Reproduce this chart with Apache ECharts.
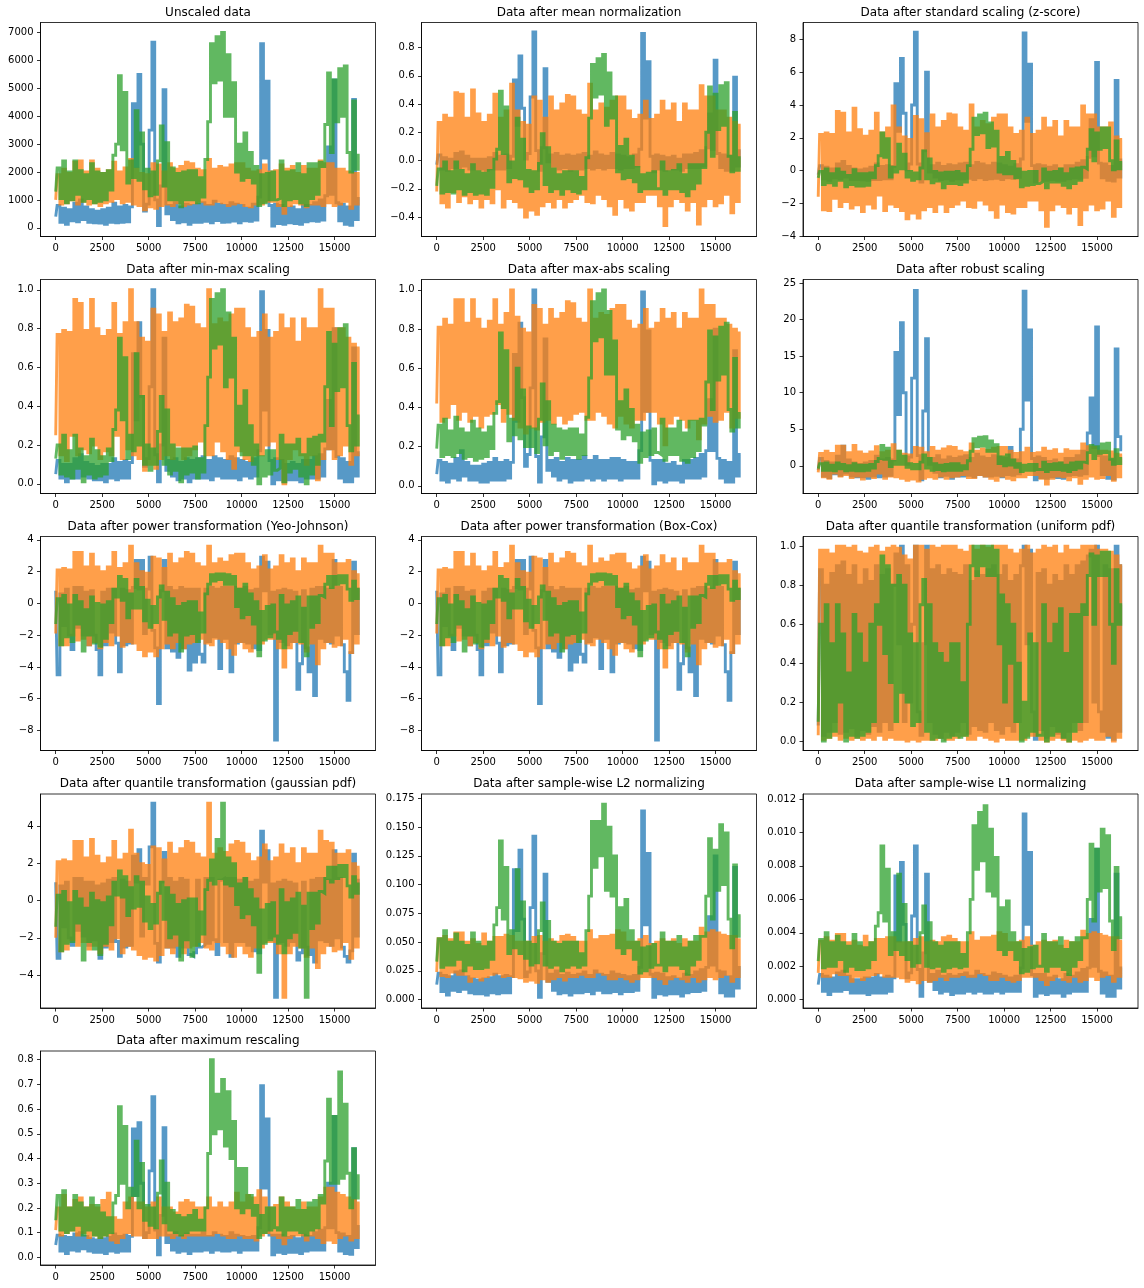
<!DOCTYPE html>
<html><head><meta charset="utf-8">
<style>html,body{margin:0;padding:0;background:#fff}#c{width:1144px;height:1288px}</style>
<script src="https://cdn.jsdelivr.net/npm/echarts@6/dist/echarts.min.js"></script>
</head><body><div id="c"></div>
<script>
const rawBlue=[400,800,200,700,130,650,250,880,220,1000,
300,750,200,650,180,600,170,650,130,700,
200,880,180,750,200,800,220,750,4450,2200,
5500,3000,600,850,3500,6650,1000,80,1500,4950,
500,800,300,900,180,750,220,850,130,800,
200,850,200,900,230,800,180,950,260,850,
200,800,210,900,240,850,180,800,250,700,
230,850,280,1100,6600,2500,5250,800,60,850,
150,800,130,700,180,750,150,650,130,800,
220,800,250,900,230,1000,280,1150,2900,1200,
5300,900,250,850,130,750,90,4600,300,1050];
const rawOrange=[1000,1900,850,2100,900,1950,1000,2350,850,2400,
950,2000,850,2400,900,2100,800,1950,900,2050,
950,2350,1050,2000,900,2150,950,2450,850,2100,
800,1950,650,1900,750,2300,700,2250,800,2000,
850,2300,800,2100,900,2200,800,2350,850,2300,
900,2100,950,2050,850,2450,850,2100,950,2200,
900,2150,800,2250,850,2300,900,2300,800,2100,
750,2000,850,2050,850,2250,950,2000,950,2050,
800,2250,520,2100,800,2200,900,1950,850,2200,
750,2100,850,2100,850,2400,800,2300,900,2300,
800,2100,850,2100,950,2000,700,1950,850,1950];
const rawGreen=[1300,2150,1050,2400,900,2000,1000,2400,1200,2050,
950,1900,1050,2300,900,2000,950,1950,1000,2050,
1350,2600,3000,5450,2800,4850,1600,2400,1800,4200,
1700,3400,1400,2100,1150,2000,1200,2400,3650,1500,
3050,1000,2150,1000,1950,750,2000,1000,2050,1000,
2050,900,1800,1100,2450,3800,6600,5200,6850,5300,
7000,4000,6200,4000,5200,2000,3000,1700,3400,1800,
2700,1600,2200,800,1900,900,1950,1000,2000,1000,
1050,2400,800,2000,1000,2050,1050,2300,900,1900,
800,2300,1050,2300,1200,2350,2200,3700,5550,2700,
5300,3800,5700,4000,5800,2700,2000,4550,2100,2600];

const meanBlue=[-.03,.04,-.06,.02,-.07,.01,-.05,.05,-.05,.06,
-.04,.03,-.06,.01,-.06,.01,-.06,.01,-.07,.02,
-.06,.05,-.06,.03,-.06,.04,-.05,.03,.57,.25,
.74,.37,.01,.05,.45,.91,.07,-.07,.09,.65,
-.01,.04,-.04,.05,-.06,.03,-.05,.04,-.07,.03,
-.06,.04,-.06,.05,-.05,.03,-.06,.06,-.05,.04,
-.06,.03,-.05,.05,-.05,.04,-.06,.03,-.05,.02,
-.05,.04,-.04,.08,.9,.3,.7,.03,-.08,.04,
-.06,.03,-.07,.02,-.06,.03,-.06,.01,-.07,.04,
-.05,.04,-.05,.05,-.05,.07,-.04,.09,.33,.08,
.71,.05,-.05,.04,-.07,.03,-.07,.59,-.04,.07];
const meanOrange=[-.22,.27,-.3,.32,-.33,.3,-.22,.48,-.29,.47,
-.25,.3,-.3,.5,-.27,.33,-.33,.27,-.27,.32,
-.3,.47,-.2,.3,-.33,.35,-.27,.54,-.29,.35,
-.33,.27,-.4,.25,-.35,.45,-.38,.42,-.32,.3,
-.29,.45,-.33,.35,-.27,.4,-.33,.46,-.29,.45,
-.27,.35,-.24,.32,-.29,.54,-.3,.35,-.24,.4,
-.27,.37,-.32,.42,-.38,.45,-.27,.45,-.33,.35,
-.35,.29,-.29,.32,-.29,.42,-.24,.29,-.24,.32,
-.32,.42,-.46,.35,-.32,.4,-.27,.27,-.29,.4,
-.35,.35,-.29,.35,-.45,.53,-.32,.45,-.27,.45,
-.32,.35,-.3,.35,-.24,.3,-.37,.27,-.29,.25];
const meanGreen=[-.18,-.06,-.23,-.01,-.22,-.08,-.23,-.01,-.2,-.07,
-.24,-.1,-.22,-.03,-.24,-.08,-.23,-.09,-.24,-.07,
-.19,.01,.08,.49,.05,.38,-.15,-.01,-.12,.3,
-.13,.15,-.18,-.07,-.22,-.08,-.2,-.02,.19,-.17,
.09,-.22,-.06,-.2,-.1,-.24,-.08,-.2,-.08,-.22,
-.08,-.23,-.12,-.2,.02,.3,.68,.45,.72,.47,
.75,.25,.62,.3,.45,-.08,.1,-.13,.15,-.12,
.03,-.15,-.05,-.22,-.1,-.2,-.09,-.2,-.08,-.2,
-.2,-.01,-.24,-.08,-.2,-.07,-.2,-.03,-.22,-.1,
-.25,-.03,-.2,-.03,-.16,-.03,-.05,.2,.52,.03,
.47,.22,.53,.25,.55,.03,-.08,.34,-.07,.02];

const zBlue=[-.25,.3,-.5,.2,-.6,.1,-.45,.4,-.5,.55,
-.4,.25,-.55,.1,-.55,.03,-.57,.1,-.6,.2,
-.55,.4,-.55,.25,-.5,.3,-.5,.25,5.3,2.4,
6.85,3.5,.05,.4,4,8.45,.4,-.7,1.2,6,
-.1,.3,-.4,.45,-.55,.25,-.5,.35,-.6,.3,
-.5,.4,-.5,.45,-.48,.3,-.55,.5,-.45,.4,
-.55,.3,-.5,.45,-.48,.4,-.55,.3,-.45,.2,
-.48,.35,-.42,.7,8.4,3,6.5,.3,-.7,.35,
-.6,.3,-.6,.2,-.55,.3,-.6,.1,-.6,.3,
-.5,.3,-.45,.45,-.48,.6,-.42,.8,3.1,.9,
6.6,.45,-.45,.4,-.6,.25,-.65,5.5,-.4,.65];
const zOrange=[-1.6,2.2,-2.4,2.3,-2.45,2.2,-1.7,3.6,-2.2,3.5,
-1.9,2.3,-2.3,3.8,-2.1,2.5,-2.5,2.1,-2.05,2.4,
-2.3,3.5,-1.5,2.3,-2.45,2.6,-2.05,3.95,-2.2,2.6,
-2.45,2.05,-2.95,1.9,-2.6,3.3,-2.9,3.1,-2.4,2.25,
-2.2,3.4,-2.5,2.6,-2.05,3,-2.5,3.45,-2.2,3.4,
-2.05,2.6,-1.8,2.4,-2.2,4,-2.25,2.6,-1.8,3,
-2.05,2.8,-2.4,3.2,-2.85,3.4,-2.05,3.4,-2.5,2.6,
-2.6,2.2,-2.2,2.4,-2.2,3.2,-1.8,2.2,-1.8,2.4,
-2.4,3.2,-3.4,2.6,-2.4,3,-2.05,2.05,-2.2,3,
-2.6,2.6,-2.2,2.6,-3.3,3.95,-2.4,3.4,-2.05,3.4,
-2.4,2.6,-2.3,2.6,-1.8,2.9,-2.8,2.05,-2.2,1.9];
const zGreen=[-.45,-.05,-.85,.1,-.75,-.2,-.9,.1,-.6,-.1,
-1,-.3,-.85,.05,-.95,-.2,-.95,-.2,-.9,-.15,
-.45,.3,.9,2.3,.8,1.95,-.4,.2,-.1,1.6,
.1,1,-.4,-.05,-.6,-.15,-.5,.15,1.2,-.5,
.7,-.75,-.05,-.65,-.15,-1.05,-.1,-.8,-.1,-.8,
-.05,-.85,-.2,-.7,.3,1.3,3.2,2.2,3.4,2.3,
3.5,1.4,2.9,1.5,2.4,-.1,.8,-.2,1.1,-.2,
.55,-.45,.1,-1,-.1,-.9,-.05,-.85,-.05,-.8,
-.7,.1,-1.05,-.1,-.7,-.05,-.7,.1,-.9,-.2,
-1.05,.1,-.8,.15,-.6,.2,.1,1.3,2.5,.6,
2.3,1.3,2.6,1.4,2.6,.6,.05,1.8,.1,.5];

const minmaxBlue=[.05,.12,.03,.1,.01,.1,.03,.13,.03,.15,
.04,.11,.03,.1,.02,.09,.02,.1,.01,.1,
.03,.13,.02,.11,.03,.12,.03,.11,.67,.33,
.83,.45,.09,.13,.5,1,.15,.01,.2,.75,
.07,.12,.04,.13,.02,.11,.03,.13,.01,.12,
.03,.13,.03,.14,.03,.12,.02,.14,.04,.13,
.03,.12,.03,.14,.03,.13,.02,.12,.04,.11,
.03,.13,.04,.17,.99,.38,.79,.12,0,.13,
.02,.12,.01,.1,.02,.11,.02,.1,.01,.12,
.03,.12,.03,.14,.03,.15,.04,.18,.43,.18,
.8,.14,.03,.13,.01,.11,.01,.7,.04,.16];
const minmaxOrange=[.25,.77,.15,.79,.12,.78,.25,.95,.15,.93,
.18,.79,.16,.95,.2,.8,.13,.76,.17,.79,
.15,.93,.25,.77,.13,.83,.18,1,.15,.83,
.13,.75,.07,.73,.1,.9,.08,.87,.13,.78,
.15,.88,.13,.83,.2,.85,.13,.92,.15,.91,
.18,.82,.22,.8,.15,1,.15,.82,.22,.85,
.17,.83,.13,.87,.08,.9,.17,.9,.13,.8,
.12,.75,.15,.78,.15,.87,.2,.75,.22,.78,
.13,.87,0,.8,.13,.85,.18,.73,.15,.85,
.1,.8,.15,.8,.02,1,.13,.9,.18,.9,
.13,.8,.15,.8,.2,.75,.1,.72,.15,.7];
const minmaxGreen=[.13,.2,.05,.25,.04,.17,.03,.25,.08,.18,
.01,.14,.05,.23,.03,.17,.04,.14,.05,.18,
.12,.28,.38,.75,.33,.65,.13,.25,.17,.67,
.2,.45,.1,.2,.07,.18,.1,.27,.45,.1,
.38,.05,.2,.07,.18,.01,.18,.05,.18,.06,
.19,.03,.13,.06,.3,.55,.95,.7,.98,.72,
1,.5,.88,.55,.75,.2,.4,.15,.48,.15,
.3,.1,.2,0,.14,.04,.17,.05,.17,.07,
.08,.25,.01,.2,.06,.2,.08,.23,.04,.15,
0,.23,.05,.24,.1,.25,.22,.5,.78,.3,
.72,.48,.8,.5,.82,.3,.17,.62,.2,.35];

const maxabsBlue=[.06,.13,.03,.12,.02,.11,.04,.14,.03,.18,
.05,.12,.03,.1,.03,.1,.02,.11,.02,.12,
.03,.14,.03,.12,.03,.13,.04,.12,.67,.33,
.83,.45,.1,.16,.5,1,.15,.02,.25,.75,
.08,.13,.05,.14,.03,.12,.04,.14,.02,.13,
.03,.13,.03,.15,.04,.13,.03,.15,.04,.13,
.03,.13,.04,.14,.04,.14,.03,.13,.04,.12,
.04,.12,.04,.18,.99,.38,.79,.13,.01,.13,
.03,.13,.02,.11,.03,.12,.03,.1,.02,.13,
.04,.13,.04,.14,.04,.16,.05,.18,.44,.18,
.8,.14,.04,.13,.02,.12,.02,.69,.05,.16];
const maxabsOrange=[.42,.81,.33,.85,.35,.82,.42,.95,.34,.95,
.38,.83,.33,.95,.36,.85,.3,.8,.36,.84,
.37,.95,.42,.82,.33,.88,.37,1,.34,.86,
.3,.8,.27,.78,.3,.92,.29,.9,.33,.82,
.34,.9,.32,.85,.36,.88,.32,.94,.34,.93,
.37,.85,.38,.83,.34,1,.34,.85,.38,.88,
.36,.87,.32,.9,.3,.92,.36,.92,.32,.84,
.3,.8,.34,.82,.34,.9,.38,.8,.38,.83,
.32,.9,.21,.85,.32,.88,.36,.8,.34,.88,
.3,.85,.34,.85,.24,1,.32,.92,.36,.92,
.33,.85,.34,.85,.38,.82,.3,.8,.35,.78];
const maxabsGreen=[.19,.31,.15,.34,.16,.28,.15,.35,.17,.29,
.14,.27,.15,.33,.13,.29,.14,.27,.15,.3,
.19,.37,.43,.78,.4,.69,.23,.34,.26,.6,
.24,.49,.2,.3,.2,.29,.17,.34,.52,.21,
.43,.16,.31,.18,.29,.14,.28,.16,.29,.16,
.29,.14,.26,.16,.35,.55,.94,.74,.98,.76,
1,.57,.89,.57,.74,.29,.43,.24,.49,.26,
.39,.23,.31,.12,.27,.15,.28,.16,.29,.17,
.16,.34,.13,.29,.16,.29,.16,.33,.13,.27,
.12,.33,.15,.33,.18,.34,.31,.53,.79,.39,
.76,.54,.81,.57,.83,.39,.28,.65,.3,.37];

const robustBlue=[-.6,1,-1.4,.6,-1.6,.4,-1.1,1.3,-1.3,2.7,
-1,.8,-1.4,.4,-1.5,.2,-1.5,.4,-1.7,.6,
-1.4,1.3,-1.5,.8,-1.4,1,-1.3,.8,15.5,7,
19.6,10,.2,1.2,12,24,1.4,-1.9,7.5,17.4,
.2,1,-.9,1.4,-1.5,.8,-1.3,1.2,-1.7,1,
-1.4,1.2,-1.4,1.4,-1.3,1,-1.5,1.6,-1.2,1.2,
-1.4,1,-1.4,1.4,-1.3,1.2,-1.5,1,-1.2,2.5,
-1.3,.8,-1.1,5,23.9,9,18.6,1,-1.9,1.2,
-1.6,1,-1.7,.6,-1.5,.8,-1.6,.4,-1.7,1,
-1.3,1,-1.2,1.4,-1.3,2,-1.1,4.5,9.3,2.5,
19,1.4,-1.2,1.2,-1.7,.8,-1.8,16,4,2.2];
const robustOrange=[-.9,1.7,-1.5,2,-1.7,1.7,-1,2.7,-1.4,2.7,
-1.2,1.8,-1.6,2.8,-1.4,1.9,-1.8,1.6,-1.4,1.9,
-1.6,2.6,-1,1.8,-1.7,2,-1.4,2.9,-1.5,2,
-1.7,1.6,-2,1.5,-1.8,2.5,-2.1,2.4,-1.7,1.8,
-1.5,2.5,-1.7,2,-1.4,2.3,-1.7,2.6,-1.5,2.5,
-1.4,2,-1.2,1.8,-1.6,3,-1.6,2,-1.2,2.3,
-1.4,2.1,-1.7,2.4,-2,2.5,-1.4,2.5,-1.7,2,
-1.9,1.7,-1.5,1.8,-1.5,2.4,-1.2,1.7,-1.2,1.8,
-1.7,2.4,-2.5,2,-1.7,2.2,-1.4,1.6,-1.5,2.2,
-1.9,2,-1.5,2,-2.4,3,-1.7,2.6,-1.4,2.5,
-1.7,2,-1.6,2,-1.2,1.9,-2,1.6,-1.5,1.5];
const robustGreen=[-.4,.3,-.6,.4,-.6,.1,-.7,.4,-.4,.2,
-.7,0,-.6,.3,-.7,.1,-.7,.1,-.6,.2,
-.3,.6,1,2.8,.9,2.4,-.1,.6,.2,2,
.2,1.3,-.2,.3,-.4,.2,-.4,.5,1.5,-.3,
1,-.6,.3,-.5,.1,-.7,.2,-.6,.3,-.6,
.3,-.6,0,-.4,.7,2,3.7,2.6,3.9,2.7,
4,2,3.4,2,2.9,.3,1.2,0,1.5,.1,
.8,-.2,.3,-.8,.1,-.6,.2,-.6,.2,-.5,
-.5,.5,-.8,.2,-.5,.3,-.5,.4,-.6,.1,
-.8,.4,-.5,.5,-.3,.5,.4,1.8,2.8,1,
2.6,1.7,3,1.8,3.1,.9,.2,2.2,.3,1];

const powerBlue=[.8,-4.5,.6,-1.4,.9,-2,-2.9,1,-1.5,1,
-2,.7,-2.6,.8,-2,-2.9,-4.5,.7,-2.6,.9,
-1.8,.9,-2.5,-4.3,.9,-2.6,.8,-2.5,1,2.7,
.9,2.7,-1.9,.9,2.9,-1.7,-2.8,-6.3,.8,2.7,
-2.8,1,-3,.8,-3.4,1,-2.8,.9,-4.2,.9,
-3.7,.9,-3.2,-3.7,.9,-2.4,1,-2.1,.9,-4.1,
1,-2.2,1,-4.3,1,-2.5,.9,-2.4,1,-2.5,
.8,-2.8,.9,-2.9,2.9,.8,2.6,-1.9,.7,-8.6,
.8,-2.4,.9,-2.6,.8,-2.4,.7,-5.4,-3.8,.8,
-2.8,-4.3,.9,-5.8,1,-2.2,1,-2.4,.9,-2.5,
2.7,-2,1,-2.6,-4.3,-6.1,-3.1,2.6,-1.9,.9];
const powerOrange=[-1.9,2.1,-2.6,2.2,-2.6,2.1,-2,3.2,-2.3,3.2,
-2.2,2.3,-2.6,3.1,-2.4,2.3,-2.8,2,-2.4,2.3,
-2.6,3.2,-2,2.2,-2.7,2.5,-2.4,3.6,-2.5,2.5,
-2.9,2,-3.3,1.9,-3,2.9,-3.3,2.8,-2.8,2.2,
-2.5,3.1,-2.8,2.5,-2.4,2.8,-2.8,3.2,-2.5,3.1,
-2.4,2.5,-2.2,2.3,-2.5,3.6,-2.6,2.5,-2.2,2.8,
-2.4,2.6,-2.8,3,-3.2,3.1,-2.4,3.1,-2.8,2.5,
-3,2.1,-2.5,2.3,-2.5,3,-2.2,2.1,-2.2,2.3,
-2.8,3,-4,2.5,-2.8,2.8,-2.4,2,-2.5,2.8,
-3,2.5,-2.5,2.5,-3.8,3.6,-2.8,3.1,-2.4,3.1,
-2.7,2.5,-2.6,2.5,-2.2,2.7,-3.1,2,-2.5,1.8];
const powerGreen=[-1.3,.3,-2.6,.5,-2.1,-.1,-2.4,.5,-1.3,.1,
-3,-.4,-2,.4,-2.5,0,-2.7,-.1,-2.2,.1,
-1.2,.9,.4,1.7,.2,1.5,-.9,.6,-.3,1.5,
-.3,1,-1.1,.2,-1.5,-.2,-1.2,.4,1.1,-1,
.7,-2,.3,-1.8,-.2,-3,0,-2,.1,-1.9,
.1,-2.4,-.6,-1.8,.6,1.2,1.8,1.4,1.85,1.5,
1.85,1.2,1.8,1.2,1.7,-.2,.9,-.9,1.2,-.7,
.6,-1.3,.1,-3.3,-.5,-2.3,-.2,-2.1,-.1,-1.8,
-2.2,.5,-2.8,-.1,-1.9,.1,-1.7,.4,-2.4,-.3,
-3.3,.4,-1.5,.4,-1.2,.5,.4,1.2,1.7,1,
1.7,1.2,1.75,1.3,1.75,.9,.2,1.4,.3,.9];

const uniformBlue=[.08,.88,.03,.8,.05,.86,.1,.9,.04,.92,
.05,.85,.07,.9,.03,.8,.06,.88,.04,.82,
.08,.9,.05,.85,.1,.88,.06,.8,.96,.5,
1,.1,.9,.2,.6,1,.15,.03,.5,1,
.1,.88,.04,.9,.02,.85,.05,.88,.03,.86,
.05,.85,.1,.9,.04,.82,.08,.87,.06,.85,
.05,.88,.1,.9,.06,.85,.04,.9,.08,.82,
.05,.85,.1,.9,1,.5,.98,.15,.01,.86,
.06,.88,.02,.8,.08,.85,.04,.82,.02,.9,
.05,.85,.1,.9,.06,.92,.1,.95,.98,.2,
1,.15,.05,.9,.02,.88,.01,1,.05,.9];
const uniformOrange=[.03,.98,.01,.98,.02,.96,.03,1,.01,1,
.02,.99,.01,1,.02,.97,.01,.96,.02,.99,
.01,1,.03,.97,.01,.99,.02,1,.01,.99,
.01,.95,0,.93,.01,1,0,1,.01,.98,
.01,1,.01,.99,.02,1,.01,1,.01,1,
.02,.98,.03,.97,.01,1,.01,.98,.03,1,
.02,.99,.01,1,0,1,.02,1,.01,.98,
.01,.96,.01,.98,.01,1,.03,.96,.03,.98,
.01,1,0,.99,.01,1,.02,.96,.01,1,
0,.98,.01,.98,0,1,.01,1,.02,1,
.01,.98,.01,.98,.03,.97,0,.95,.02,.9];
const uniformGreen=[.1,.6,0,.7,.02,.5,.05,.7,.2,.55,
0,.35,.03,.65,.02,.55,.03,.4,.05,.6,
.1,.7,.6,.95,.45,.9,.3,.8,.1,.85,
.25,.8,.2,.55,.08,.5,.1,.7,.83,.05,
.7,.01,.5,.02,.45,0,.4,.02,.5,.03,
.5,.02,.3,.03,.6,.9,1,.85,1,.9,
1,.85,1,.85,.98,.5,.75,.2,.7,.4,
.6,.1,.4,0,.2,.02,.55,.05,.5,.03,
.03,.7,0,.5,.03,.6,.05,.68,.02,.45,
0,.65,.05,.65,.1,.7,.65,.85,.96,.6,
.95,.85,.97,.85,.97,.6,.4,.88,.6,.7];

const gaussBlue=[1,-3.1,.8,-1.4,1,-2,-2.4,1.2,-1.6,1.2,
-1.9,1,-2.4,1,-2.1,.8,-3.1,.9,-2.5,1.1,
-2.2,1.2,-2.2,-3,1.1,-2.5,1,-2.4,2.4,1,
2.75,-1.9,1.2,.9,2.9,5.25,-2.3,-3.3,1,2.6,
-2.5,1.2,-2.5,1,-3,1.2,-2.5,1.1,-2.9,-3,
-2.8,1.1,-2.5,-2.4,1.2,-2.3,1.2,-2.1,-2.9,1.1,
1.2,-2.2,1.2,-3,1.2,-2.2,1.1,-2.2,1.2,-2.4,
1,-2.7,1.1,-2.8,3.75,1,2.7,-2,.9,-5.2,
1,-2.2,1.1,-2.4,1,-2.2,.9,-3.2,-2.8,1,
-2.5,-2.9,1.1,-3.3,1.2,-2.1,1.2,-2.2,1.1,-2.4,
2.7,-2,1.2,-2.5,-3,-3.3,-2.7,2.5,-1.9,1.1];
const gaussOrange=[-2,2.1,-2.7,2.2,-2.6,2.1,-2.1,3.2,-2.4,3.2,
-2.2,2.3,-2.6,3.3,-2.4,2.4,-2.8,2,-2.4,2.3,
-2.6,3.2,-2,2.2,-2.8,2.5,-2.4,3.8,-2.6,2.5,
-2.9,2,-3.1,1.9,-3,2.9,-3.2,2.8,-2.9,2.2,
-2.5,3.1,-2.8,2.5,-2.4,2.8,-2.8,3.2,-2.5,3.1,
-2.4,2.5,-2.2,2.3,-2.5,5.25,-2.6,2.5,-2.2,2.8,
-2.4,2.6,-2.8,3,-3,3.2,-2.4,3.1,-2.8,2.5,
-3,2.1,-2.5,2.3,-2.5,3,-2.2,2.1,-2.2,2.3,
-2.8,3,-5.2,2.5,-2.8,2.8,-2.4,2,-2.5,2.8,
-3,2.5,-2.5,2.5,-3.6,3.75,-2.8,3.2,-2.4,3.1,
-2.7,2.5,-2.6,2.5,-2.2,2.7,-3.1,2,-2.5,1.8];
const gaussGreen=[-1.4,.3,-2.7,.5,-2.3,-.1,-2.2,.5,-1.2,.1,
-3.2,-.4,-2.2,.4,-2.6,0,-2.9,-.1,-2.3,.2,
-1.3,1,.3,1.6,.2,1.3,-.8,.7,-.4,1.3,
-.3,1,-1.1,.2,-1.5,-.2,-1.2,.4,1,-1,
.7,-2,.3,-1.8,-.2,-3.2,0,-2.1,.1,-3,
.1,-2.4,-.6,-1.8,.6,1.1,2.2,.9,3.3,1.2,
5.25,.9,2.3,.8,2,-.2,.9,-.9,1.2,-.7,
.6,-1.3,.1,-3.85,-.5,-2.3,-.2,-2.1,-.1,-1.9,
-2.3,.6,-2.8,-.1,-2,.1,-1.7,.4,-2.5,-.3,
-5.2,.4,-1.5,.4,-1.2,.5,.4,1.2,1.8,1,
1.8,1.2,1.9,1.3,1.9,.8,.2,1.3,.4,.9];

const l2Blue=[.013,.023,.007,.021,.004,.02,.008,.024,.007,.025,
.009,.02,.006,.018,.005,.017,.005,.018,.004,.019,
.006,.022,.005,.02,.006,.021,.006,.02,.113,.06,
.13,.07,.02,.024,.08,.142,.025,.002,.04,.109,
.016,.022,.008,.025,.005,.021,.006,.023,.004,.021,
.006,.022,.006,.024,.007,.021,.005,.025,.008,.022,
.006,.021,.006,.024,.007,.022,.005,.021,.007,.02,
.007,.021,.008,.028,.164,.065,.127,.022,.002,.023,
.005,.022,.004,.019,.005,.02,.005,.018,.003,.022,
.006,.021,.007,.024,.007,.026,.008,.028,.072,.03,
.125,.025,.006,.024,.003,.02,.003,.115,.01,.028];
const l2Orange=[.024,.053,.021,.055,.02,.052,.024,.058,.022,.058,
.022,.05,.016,.052,.02,.048,.017,.057,.02,.05,
.022,.054,.023,.054,.02,.056,.021,.055,.02,.05,
.019,.05,.016,.05,.017,.054,.015,.055,.018,.05,
.016,.052,.018,.05,.02,.055,.017,.056,.02,.054,
.02,.05,.022,.05,.02,.06,.02,.052,.024,.055,
.022,.055,.018,.056,.018,.06,.02,.058,.018,.05,
.016,.05,.018,.052,.02,.055,.02,.048,.02,.05,
.018,.052,.014,.05,.018,.052,.02,.048,.018,.052,
.016,.05,.02,.05,.016,.062,.018,.058,.02,.06,
.018,.058,.02,.056,.022,.055,.016,.055,.02,.052];
const l2Green=[.033,.053,.028,.06,.03,.05,.03,.057,.035,.05,
.025,.047,.03,.058,.027,.05,.027,.046,.028,.05,
.035,.065,.08,.138,.07,.115,.04,.06,.045,.113,
.04,.085,.036,.05,.03,.048,.032,.06,.084,.03,
.068,.028,.05,.03,.048,.025,.05,.028,.05,.03,
.05,.028,.04,.03,.06,.09,.155,.115,.155,.125,
.17,.095,.15,.09,.125,.045,.08,.04,.087,.045,
.06,.035,.05,.023,.045,.025,.046,.028,.048,.03,
.03,.058,.025,.05,.03,.05,.03,.055,.027,.045,
.022,.05,.03,.055,.035,.055,.055,.09,.14,.07,
.13,.095,.152,.1,.145,.07,.045,.117,.055,.073];

const l1Blue=[.0009,.0015,.0005,.0014,.0003,.0013,.0005,.0016,.0005,.0017,
.0006,.0014,.0004,.0012,.0004,.0012,.0004,.0013,.0003,.0013,
.0004,.0015,.0004,.0013,.0004,.0014,.0005,.0013,.0074,.0035,
.0082,.0045,.0013,.0016,.005,.0092,.0018,.0002,.0028,.0075,
.0011,.0015,.0006,.0017,.0004,.0014,.0005,.0015,.0003,.0014,
.0004,.0015,.0004,.0016,.0005,.0014,.0004,.0017,.0005,.0015,
.0004,.0014,.0004,.0016,.0005,.0015,.0004,.0014,.0005,.0013,
.0005,.0014,.0005,.0019,.0111,.0045,.0088,.0015,.0002,.0015,
.0004,.0015,.0003,.0013,.0004,.0014,.0004,.0012,.0002,.0015,
.0004,.0014,.0005,.0016,.0005,.0018,.0005,.0019,.0048,.002,
.009,.0017,.0004,.0016,.0002,.0014,.0002,.0075,.0007,.0019];
const l1Orange=[.0016,.0035,.0014,.0037,.0014,.0035,.0016,.0039,.0015,.0039,
.0015,.0034,.0011,.0035,.0014,.0032,.0012,.0038,.0014,.0034,
.0015,.0036,.0016,.0036,.0014,.0037,.0014,.0037,.0014,.0034,
.0013,.0034,.0011,.0034,.0012,.0036,.001,.0037,.0012,.0034,
.0011,.0035,.0012,.0034,.0014,.0037,.0012,.0038,.0014,.0036,
.0014,.0034,.0015,.0034,.0014,.004,.0014,.0035,.0016,.0037,
.0015,.0037,.0012,.0038,.0012,.004,.0014,.0039,.0012,.0034,
.0011,.0034,.0012,.0035,.0014,.0037,.0014,.0032,.0014,.0034,
.0012,.0035,.0009,.0034,.0012,.0035,.0014,.0032,.0012,.0035,
.0011,.0034,.0014,.0034,.0011,.0041,.0012,.0039,.0014,.004,
.0012,.0039,.0014,.0038,.0015,.0037,.0011,.0037,.0014,.0035];
const l1Green=[.0023,.0036,.0019,.004,.002,.0034,.002,.0038,.0024,.0034,
.0017,.0032,.002,.0039,.0018,.0034,.0018,.0031,.0019,.0034,
.0024,.0044,.0052,.0092,.0047,.0078,.0027,.004,.003,.0075,
.0027,.0057,.0024,.0034,.002,.0032,.0022,.004,.0056,.002,
.0046,.0019,.0034,.002,.0032,.0017,.0034,.0019,.0034,.002,
.0034,.0019,.0027,.002,.004,.006,.0104,.0078,.0112,.0083,
.0116,.0065,.0102,.0062,.0085,.003,.0055,.0027,.0059,.003,
.004,.0024,.0034,.0016,.003,.0017,.0031,.0019,.0032,.002,
.002,.0039,.0017,.0034,.002,.0034,.002,.0037,.0018,.003,
.0015,.0034,.002,.0037,.0024,.0037,.0037,.006,.0093,.0047,
.009,.0065,.0102,.0067,.0098,.0047,.003,.0079,.0037,.0049];

const rescaleBlue=[.05,.09,.025,.085,.015,.08,.03,.095,.025,.1,
.035,.085,.025,.075,.02,.07,.02,.075,.015,.08,
.025,.095,.02,.085,.025,.09,.025,.085,.52,.25,
.545,.3,.08,.1,.35,.65,.11,.01,.17,.525,
.06,.09,.03,.1,.02,.085,.025,.095,.015,.09,
.025,.09,.025,.1,.03,.085,.02,.1,.03,.09,
.025,.085,.025,.1,.03,.09,.02,.085,.03,.08,
.03,.085,.03,.12,.695,.28,.56,.09,.01,.09,
.02,.09,.015,.08,.02,.085,.02,.075,.015,.09,
.025,.085,.03,.1,.03,.11,.03,.12,.3,.12,
.57,.1,.025,.095,.015,.085,.012,.44,.04,.125];
const rescaleOrange=[.11,.2,.09,.25,.1,.2,.11,.23,.09,.24,
.1,.2,.08,.21,.09,.2,.08,.23,.09,.26,
.07,.16,.06,.15,.08,.22,.1,.24,.09,.22,
.09,.22,.08,.2,.08,.22,.08,.24,.09,.2,
.09,.2,.08,.18,.09,.22,.08,.23,.09,.22,
.09,.2,.09,.2,.09,.24,.09,.2,.1,.22,
.09,.2,.08,.22,.08,.26,.09,.22,.08,.25,
.08,.24,.07,.27,.09,.24,.1,.2,.09,.21,
.08,.24,.055,.22,.08,.2,.09,.19,.09,.22,
.07,.2,.09,.2,.08,.24,.06,.28,.07,.28,
.06,.26,.08,.25,.09,.24,.07,.23,.08,.22];
const rescaleGreen=[.15,.25,.11,.27,.1,.2,.11,.25,.13,.22,
.09,.2,.11,.24,.09,.21,.08,.18,.09,.16,
.1,.22,.25,.61,.3,.53,.2,.28,.25,.47,
.2,.38,.15,.21,.13,.2,.12,.26,.39,.14,
.3,.11,.19,.1,.17,.09,.16,.1,.17,.11,
.19,.11,.15,.11,.2,.42,.8,.5,.66,.52,
.72,.45,.67,.4,.55,.2,.36,.18,.36,.2,
.25,.17,.21,.08,.17,.1,.2,.11,.2,.12,
.11,.24,.09,.2,.11,.2,.11,.23,.1,.19,
.09,.22,.11,.23,.12,.25,.22,.39,.64,.3,
.57,.3,.75,.32,.62,.34,.2,.44,.24,.33];

const sampleStep=150;
const xTicks=[0,2500,5000,7500,10000,12500,15000];
const titles=['Unscaled data','Data after mean normalization','Data after standard scaling (z-score)',
'Data after min-max scaling','Data after max-abs scaling','Data after robust scaling',
'Data after power transformation (Yeo-Johnson)','Data after power transformation (Box-Cox)','Data after quantile transformation (uniform pdf)',
'Data after quantile transformation (gaussian pdf)','Data after sample-wise L2 normalizing','Data after sample-wise L1 normalizing',
'Data after maximum rescaling'];
const seriesSets=[[rawBlue,rawOrange,rawGreen],[meanBlue,meanOrange,meanGreen],[zBlue,zOrange,zGreen],
[minmaxBlue,minmaxOrange,minmaxGreen],[maxabsBlue,maxabsOrange,maxabsGreen],[robustBlue,robustOrange,robustGreen],
[powerBlue,powerOrange,powerGreen],[powerBlue,powerOrange,powerGreen],[uniformBlue,uniformOrange,uniformGreen],
[gaussBlue,gaussOrange,gaussGreen],[l2Blue,l2Orange,l2Green],[l1Blue,l1Orange,l1Green],[rescaleBlue,rescaleOrange,rescaleGreen]];
const yTicks=[[0,1000,2000,3000,4000,5000,6000,7000],[-.4,-.2,0,.2,.4,.6,.8],[-4,-2,0,2,4,6,8],
[0,.2,.4,.6,.8,1],[0,.2,.4,.6,.8,1],[0,5,10,15,20,25],
[-8,-6,-4,-2,0,2,4],[-8,-6,-4,-2,0,2,4],[0,.2,.4,.6,.8,1],
[-4,-2,0,2,4],[0,.025,.05,.075,.1,.125,.15,.175],[0,.002,.004,.006,.008,.01,.012],[0,.1,.2,.3,.4,.5,.6,.7,.8]];
const yDecimals=[0,1,0,1,1,0,0,0,1,0,3,3,1];
const yMin=[-311,-.538,-4.03,-.05,-.039,-3.79,-9.26,-9.26,-.048,-5.78,-.0073,-.0005,-.031];
const yMax=[7358,.977,9.04,1.053,1.053,25.5,4.21,4.21,1.05,5.75,.1788,.0123,.835];
const colours=['#1f77b4','#ff7f0e','#2ca02c'];
const colLeft=[40.5,421.5,803], rowTop=[22.5,279.5,536.5,794,1051], gridW=335, gridH=214;
const font='"DejaVu Sans"';

const grid=[],xAxis=[],yAxis=[],title=[],series=[];
titles.forEach((t,i)=>{
  const l=colLeft[i%3], tp=rowTop[Math.floor(i/3)];
  grid.push({left:l,top:tp,width:gridW,height:gridH,show:true,borderColor:'#000',borderWidth:.8,backgroundColor:'#fff'});
  title.push({text:t,left:l+gridW/2,top:tp-16,padding:0,textAlign:'center',textStyle:{fontFamily:font,fontSize:12,fontWeight:'normal',color:'#000'}});
  const axisCommon={type:'value',gridIndex:i,splitLine:{show:false},
    axisLine:{show:true,onZero:false,lineStyle:{color:'#000',width:.8}}};
  xAxis.push({...axisCommon,min:-819,max:17203,
    axisTick:{show:true,length:3.5,customValues:xTicks,lineStyle:{color:'#000',width:.8}},
    axisLabel:{margin:7,fontFamily:font,fontSize:10,color:'#000',customValues:xTicks,formatter:v=>String(v)}});
  yAxis.push({...axisCommon,min:yMin[i],max:yMax[i],
    axisTick:{show:true,length:3.5,customValues:yTicks[i],lineStyle:{color:'#000',width:.8}},
    axisLabel:{margin:7,fontFamily:font,fontSize:10,color:'#000',customValues:yTicks[i],
      formatter:v=>Number(v).toFixed(yDecimals[i]).replace('-','\u2212')}});
  seriesSets[i].forEach((vals,k)=>{
    series.push({type:'line',xAxisIndex:i,yAxisIndex:i,step:'middle',showSymbol:false,symbol:'none',
      silent:true,sampling:false,data:vals.map((v,n)=>[n*sampleStep,v]),
      lineStyle:{color:colours[k],width:2.9,opacity:.75,join:'miter',cap:'butt'},z:2+k});
  });
});
const chart=echarts.init(document.getElementById('c'),null,{renderer:'canvas',width:1144,height:1288});
chart.setOption({animation:false,backgroundColor:'#fff',tooltip:{show:false},grid,xAxis,yAxis,title,series});
</script></body></html>
